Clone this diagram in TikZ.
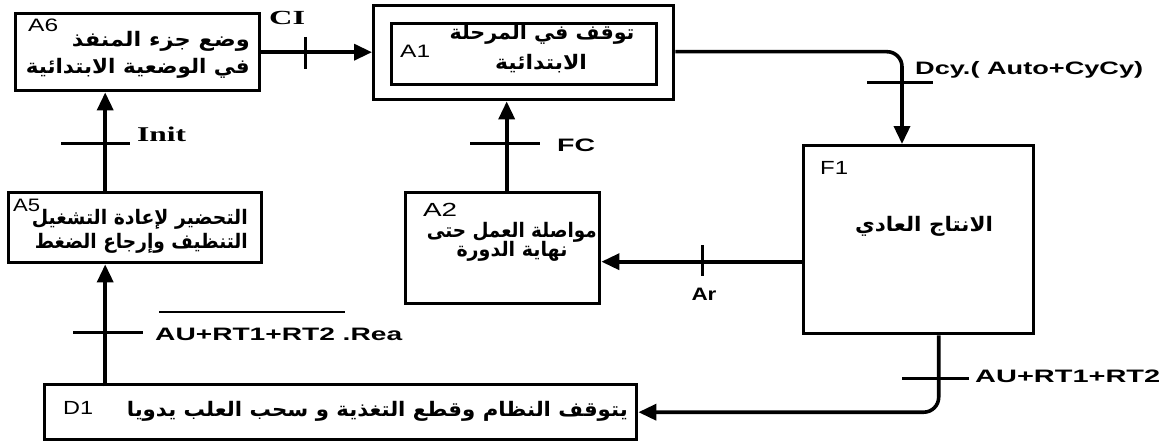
\documentclass[tikz,border=0pt]{standalone}
\usepackage{fontspec}
\usepackage{graphicx}
\setmainfont{Liberation Sans}
\newfontfamily\ar[Script=Arabic]{DejaVu Sans}
\newfontfamily\tms{Liberation Serif}
\TeXXeTstate=1
\usetikzlibrary{arrows.meta}
\newcommand\sx[2]{\resizebox{#1pt}{\height}{#2}}
\newcommand\art[2]{\sx{#1}{\fontsize{20pt}{22pt}\selectfont\ar\bfseries #2}}
\newcommand\lat[3]{\sx{#1}{\fontsize{#2pt}{#2pt}\selectfont #3}}
\begin{document}
\begin{tikzpicture}[x=1pt,y=-1pt,
  box/.style={draw, line width=3.4pt, inner sep=0pt, anchor=north west},
  conn/.style={line width=3.6pt},
  arr/.style={conn, -{Triangle[length=18pt,width=16pt]}},
  tick/.style={line width=3pt},
  lbl/.style={inner sep=0pt},
]
\useasboundingbox (0,0) rectangle (1171,444);
% boxes
\node[box, minimum width=244pt, minimum height=77pt] (a6) at (14,12) {};
\node[box, minimum width=300pt, minimum height=94pt] (a1o) at (372,4) {};
\node[box, minimum width=265pt, minimum height=61pt] (a1) at (390,22) {};
\node[box, minimum width=230pt, minimum height=188pt] (f1) at (802,144) {};
\node[box, minimum width=194pt, minimum height=111pt] (a2) at (404,191) {};
\node[box, minimum width=253pt, minimum height=70pt] (a5) at (7,191) {};
\node[box, minimum width=592pt, minimum height=55pt] (d1) at (43,383) {};
% box texts
\node[lbl, anchor=east] (a6t1) at (250,41) {\art{178}{\beginR وضع جزء المنفذ\endR}};
\node[lbl, anchor=east] (a6t2) at (250,68) {\art{224}{\beginR في الوضعية الابتدائية\endR}};
\node[lbl, anchor=base west] (a6l) at (28,32) {\lat{30}{18}{A6}};
\node[lbl] (a1t1) at (542,34) {\art{185}{\beginR توقف في المرحلة\endR}};
\node[lbl] (a1t2) at (541,64) {\art{92}{\beginR الابتدائية\endR}};
\node[lbl, anchor=base west] (a1l) at (400,58) {\lat{30}{18}{A1}};
\node[lbl, anchor=base west] (a5l) at (13,211) {\lat{27}{18}{A5}};
\node[lbl, anchor=east] (a5t1) at (248,219) {\art{216}{\beginR التحضير لإعادة التشغيل\endR}};
\node[lbl, anchor=east] (a5t2) at (248,243) {\art{213}{\beginR التنظيف وإرجاع الضغط\endR}};
\node[lbl, anchor=base west] (a2l) at (423,216) {\lat{34}{19}{A2}};
\node[lbl, anchor=east] (a2t1) at (597,232) {\art{170}{\beginR مواصلة العمل حتى\endR}};
\node[lbl] (a2t2) at (512,251) {\art{111}{\beginR نهاية الدورة\endR}};
\node[lbl, anchor=base west] (f1l) at (820,174) {\lat{28}{19}{F1}};
\node[lbl] (f1t) at (924,226) {\art{138}{\beginR الانتاج العادي\endR}};
\node[lbl, anchor=base west] (d1l) at (63,414) {\lat{30}{19}{D1}};
\node[lbl, anchor=east] (d1t) at (628,411) {\art{501}{\beginR يتوقف النظام وقطع التغذية و سحب العلب يدويا\endR}};
% connectors
\draw[arr] (a6.east) -- (a6.east -| a1o.west);
\draw[tick] (305,37) -- (305,69);
\node[lbl, anchor=base west] (ci) at (269,25) {\sx{36}{\fontsize{20pt}{20pt}\selectfont\tms\bfseries CI}};

\draw[arr, rounded corners=15pt] ([yshift=1pt]a1o.east) -| ([xshift=100pt]f1.north west);
\draw[tick] (867,83) -- (933,83);
\node[lbl, anchor=base west] (dcy) at (915,75) {\lat{228}{18}{\bfseries Dcy.( Auto+CyCy)}};

\draw[arr] ([yshift=-22pt]f1.west) coordinate (p1) -- (p1 -| a2.east);
\draw[tick] (702,245) -- (702,276);
\node[lbl, anchor=base] (ar) at (704,300) {\lat{25}{18}{\bfseries Ar}};

\draw[arr] ([xshift=4pt]a2.north) coordinate (p2) -- (p2 |- a1o.south);
\draw[tick] (470,143) -- (540,143);
\node[lbl, anchor=base west] (fc) at (557,151) {\lat{38}{18}{\bfseries FC}};

\draw[arr] ([xshift=-30pt]a5.north) coordinate (p3) -- (p3 |- a6.south);
\draw[tick] (61,143) -- (130,143);
\node[lbl, anchor=base west] (init) at (137,142) {\sx{49}{\fontsize{21pt}{21pt}\selectfont\tms\bfseries Init}};

\draw[arr] ([xshift=-30pt]a5.south) coordinate (p4) ++(0,122) coordinate (p5) -- (p4);
\draw[tick] (73,332) -- (143,332);
\node[lbl, anchor=base west] (rea) at (155,340) {\lat{247}{18}{\bfseries AU+RT1+RT2 .Rea}};
\draw[line width=1.2pt] (159,312) -- (345,312);

\draw[arr, rounded corners=15pt] ([xshift=20pt]f1.south) |- (d1.east);
\draw[tick] (902,378) -- (969,378);
\node[lbl, anchor=base west] (au) at (975,382) {\lat{185}{18}{\bfseries AU+RT1+RT2}};
\end{tikzpicture}
\end{document}
